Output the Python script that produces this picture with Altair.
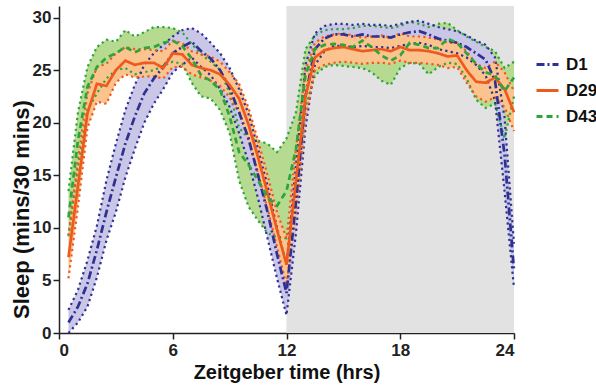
import altair as alt
import pandas as pd

# time bins (hours, Zeitgeber time)
times = [0.5, 1.0, 1.5, 2.0, 2.5, 3.0, 3.5, 4.0, 4.5, 5.0, 5.5, 6.0,
         6.5, 7.0, 7.5, 8.0, 8.5, 9.0, 9.5, 10.0, 10.5, 11.0, 11.5, 12.0,
         12.5, 13.0, 13.5, 14.0, 14.5, 15.0, 15.5, 16.0, 16.5, 17.0, 17.5, 18.0,
         18.5, 19.0, 19.5, 20.0, 20.5, 21.0, 21.5, 22.0, 22.5, 23.0, 23.5, 24.0]

series_names = ["D1", "D29", "D43"]

d1_mean = [1.0, 2.5, 4.7, 7.9, 11.5, 14.8, 18.0, 20.6, 22.8, 24.2, 25.3, 26.6,
           27.2, 27.7, 26.8, 26.1, 25.0, 23.3, 21.0, 18.5, 15.0, 11.5, 7.5, 3.8,
           12.5, 22.5, 27.0, 28.0, 28.4, 28.4, 28.2, 28.4, 28.2, 28.2, 28.1, 28.4,
           28.6, 28.7, 28.4, 28.0, 27.8, 27.6, 27.2, 26.6, 26.0, 24.0, 17.0, 6.0]
d1_lo = [0.0, 1.0, 2.5, 5.3, 8.8, 11.5, 14.8, 17.5, 20.0, 21.8, 23.2, 24.8,
         25.5, 26.2, 25.3, 24.5, 23.2, 21.5, 19.0, 16.2, 12.8, 9.0, 5.2, 1.7,
         9.5, 19.5, 25.5, 26.8, 27.3, 27.3, 27.2, 27.3, 27.2, 27.2, 27.1, 27.3,
         27.5, 27.6, 27.4, 27.0, 26.8, 26.6, 26.2, 25.5, 24.5, 22.1, 13.5, 4.3]
d1_hi = [2.2, 4.1, 6.9, 10.2, 14.5, 18.0, 21.2, 23.6, 25.5, 26.6, 27.4, 28.2,
         28.8, 29.0, 28.5, 27.6, 26.6, 25.2, 23.2, 20.8, 17.5, 14.0, 10.0, 6.5,
         16.0, 25.5, 28.5, 29.2, 29.4, 29.4, 29.3, 29.4, 29.3, 29.3, 29.2, 29.4,
         29.6, 29.7, 29.4, 29.1, 28.9, 28.7, 28.3, 27.8, 27.4, 26.2, 20.5, 8.5]

d29_mean = [7.2, 14.0, 20.9, 23.7, 23.5, 25.0, 25.9, 25.5, 25.7, 25.7, 25.2, 26.6,
            26.5, 25.5, 25.2, 25.0, 24.6, 23.6, 22.3, 19.8, 16.7, 13.3, 9.8, 6.5,
            14.5, 22.5, 26.2, 26.9, 27.1, 27.2, 27.0, 26.8, 26.9, 27.0, 26.8, 27.2,
            26.9, 26.9, 26.8, 26.6, 26.3, 26.4, 25.0, 23.9, 23.8, 24.3, 23.2, 21.0]
d29_lo = [5.2, 12.0, 19.5, 22.0, 21.8, 23.8, 24.6, 24.3, 24.4, 24.4, 24.2, 25.3,
          25.3, 24.6, 24.3, 24.0, 23.5, 22.4, 21.0, 18.3, 15.2, 11.8, 8.2, 4.5,
          11.5, 20.5, 25.0, 25.5, 25.7, 25.8, 25.7, 25.6, 25.7, 25.7, 25.6, 25.9,
          25.7, 25.7, 25.6, 25.5, 25.2, 25.3, 23.8, 22.5, 22.0, 22.4, 21.5, 19.2]
d29_hi = [9.3, 16.5, 22.8, 25.3, 25.6, 26.6, 27.2, 27.0, 27.0, 26.9, 26.8, 27.8,
          27.6, 26.8, 26.5, 26.3, 25.8, 24.8, 23.7, 21.4, 18.3, 15.0, 11.5, 9.0,
          17.5, 25.0, 27.6, 28.2, 28.4, 28.5, 28.3, 28.1, 28.2, 28.3, 28.1, 28.5,
          28.2, 28.2, 28.1, 27.9, 27.6, 27.6, 26.8, 25.6, 25.2, 25.8, 24.8, 23.0]

d43_mean = [11.0, 18.3, 23.4, 25.3, 26.2, 26.6, 27.2, 26.7, 27.1, 27.2, 27.6, 27.8,
            27.3, 26.1, 24.5, 24.0, 23.1, 20.6, 17.2, 16.0, 14.5, 12.9, 12.1, 13.5,
            17.5, 24.5, 27.0, 27.4, 27.5, 27.4, 27.2, 27.8, 27.2, 26.4, 25.9, 26.4,
            27.6, 27.4, 27.1, 27.1, 28.0, 27.6, 26.6, 25.6, 24.8, 24.5, 23.0, 24.3]
d43_lo = [9.2, 15.8, 21.2, 22.8, 24.2, 25.0, 25.2, 24.6, 24.8, 25.0, 25.4, 25.8,
          25.6, 23.8, 22.5, 22.3, 21.2, 19.0, 14.5, 12.0, 10.7, 9.5, 9.1, 9.0,
          13.0, 21.5, 24.5, 25.3, 25.5, 25.4, 25.3, 25.2, 24.8, 24.0, 23.6, 25.2,
          25.7, 25.6, 24.6, 25.3, 25.7, 25.6, 24.2, 22.2, 21.4, 21.8, 18.5, 22.5]
d43_hi = [13.5, 21.0, 25.3, 27.2, 27.9, 27.7, 28.8, 28.2, 28.6, 29.1, 29.1, 29.0,
          28.6, 27.5, 26.5, 25.8, 25.0, 22.8, 19.5, 18.5, 18.3, 18.0, 17.2, 18.5,
          21.0, 27.0, 28.3, 28.8, 28.9, 28.9, 29.0, 29.2, 29.2, 29.1, 29.0, 29.2,
          29.6, 29.4, 29.1, 29.4, 29.5, 28.8, 28.2, 27.7, 27.2, 26.8, 25.2, 25.8]

x_ticks = [0, 6, 12, 18, 24]
y_ticks = [0, 5, 10, 15, 20, 25, 30]
night_start = [12]
night_end = [24]

line_colors = {"D1": "#2e3192", "D29": "#ee5a1e", "D43": "#2ca53a"}
fill_colors = {"D1": "#c9c6e7", "D29": "#fbc48e", "D43": "#b7da91"}
dashes = {"D1": [8, 3, 2, 3], "D29": [1, 0], "D43": [6, 4]}

means = {"D1": d1_mean, "D29": d29_mean, "D43": d43_mean}
los = {"D1": d1_lo, "D29": d29_lo, "D43": d43_lo}
his = {"D1": d1_hi, "D29": d29_hi, "D43": d43_hi}

rows = []
for name in series_names:
    for ti, m, lo, hi in zip(times, means[name], los[name], his[name]):
        rows.append({"t": ti, "series": name, "mean": m, "lo": lo, "hi": hi})
df = pd.DataFrame(rows)

W, H = 455, 327
YMAX = 31.1
FONT = "Liberation Sans"

xscale = alt.Scale(domain=[0, 24], nice=False, zero=False)
yscale = alt.Scale(domain=[0, YMAX], nice=False)

xaxis = alt.Axis(values=x_ticks, title="Zeitgeber time (hrs)", grid=False,
                 tickSize=6, tickWidth=1.5, domainWidth=1.5, domainColor="#222",
                 tickColor="#222", labelFontSize=17, labelFontWeight="bold",
                 labelColor="#222", labelPadding=3, labelFont=FONT,
                 titleFont=FONT, titleFontSize=20, titleFontWeight="bold",
                 titleColor="#111", titleBaseline="middle", titleY=39)
yaxis = alt.Axis(values=y_ticks, title="Sleep (mins/30 mins)", grid=False,
                 tickSize=6, tickWidth=1.5, domainWidth=1.5, domainColor="#222",
                 tickColor="#222", labelFontSize=17, labelFontWeight="bold",
                 labelColor="#222", labelPadding=2, labelFont=FONT,
                 titleFont=FONT, titleFontSize=22, titleFontWeight="bold",
                 titleColor="#111", titleBaseline="middle", titleAlign="center",
                 titleX=-38, titleY=203, titleAngle=270)

bg = alt.Chart(pd.DataFrame({"start": night_start, "end": night_end})).mark_rect(
    color="#e2e2e2").encode(
    x=alt.X("start:Q", scale=xscale, axis=xaxis),
    x2="end:Q",
    y=alt.Y(datum=0, scale=yscale, axis=yaxis),
    y2=alt.Y2(datum=YMAX),
)

layers = [bg]
for name in ["D43", "D1", "D29"]:
    layers.append(
        alt.Chart(df).transform_filter(alt.datum.series == name)
        .mark_area(color=fill_colors[name], opacity=1)
        .encode(x=alt.X("t:Q", scale=xscale), y=alt.Y("lo:Q", scale=yscale), y2="hi:Q")
    )
for name in ["D43", "D1", "D29"]:
    for col in ["lo", "hi"]:
        layers.append(
            alt.Chart(df).transform_filter(alt.datum.series == name)
            .mark_line(color=line_colors[name], strokeDash=[2.2, 3.3], strokeWidth=2.2)
            .encode(x=alt.X("t:Q", scale=xscale), y=alt.Y(f"{col}:Q", scale=yscale))
        )

legend = alt.Legend(title=None, orient="none", legendX=476, legendY=46, padding=0,
                    symbolType="stroke", symbolSize=484, symbolStrokeWidth=2.8,
                    labelFont=FONT, labelFontSize=17, labelFontWeight="bold",
                    labelColor="#111", labelOffset=6, rowPadding=5)

mean_lines = alt.Chart(df).mark_line(strokeWidth=2.7).encode(
    x=alt.X("t:Q", scale=xscale),
    y=alt.Y("mean:Q", scale=yscale),
    color=alt.Color("series:N", legend=legend,
                    scale=alt.Scale(domain=series_names,
                                    range=[line_colors[n] for n in series_names])),
    strokeDash=alt.StrokeDash("series:N", legend=legend,
                              scale=alt.Scale(domain=series_names,
                                              range=[dashes[n] for n in series_names])),
    order=alt.Order("t:Q"),
)
layers.append(mean_lines)

chart = alt.layer(*layers).properties(
    width=W, height=H,
    autosize=alt.AutoSizeParams(type="none"),
    padding={"left": 59, "top": 6, "right": 596 - 59 - W, "bottom": 386 - 6 - H},
).configure_view(stroke=None)

chart.save("out.html", embed_options={"renderer": "svg", "actions": False})
